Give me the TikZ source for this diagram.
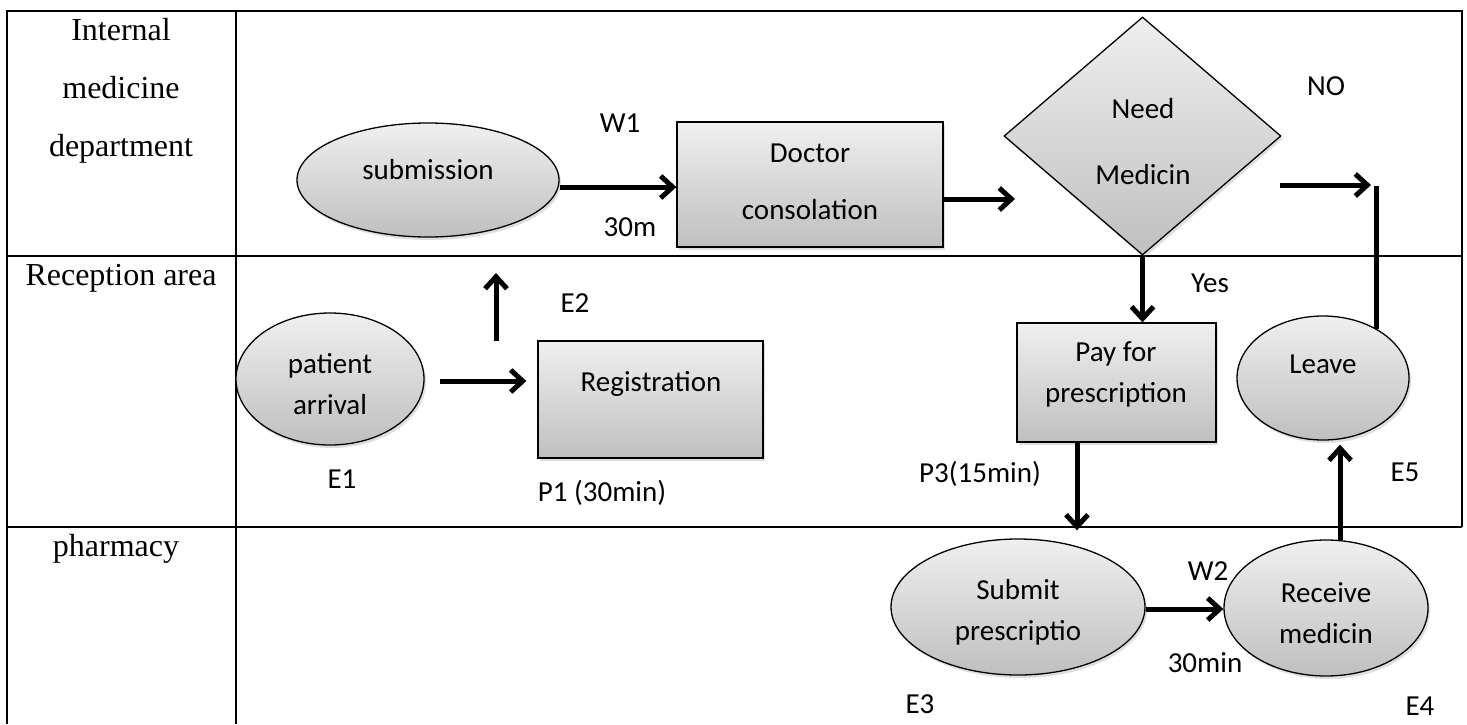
\documentclass[tikz,border=0pt]{standalone}
\usepackage{fontspec}
\setmainfont{Liberation Serif}
\newfontfamily\sansfnt{Carlito}
\usetikzlibrary{shapes.geometric,arrows.meta,shadows}
\begin{document}
\begin{tikzpicture}[x=1pt,y=-1pt,
  lanelbl/.style={font=\fontsize{32}{40}\selectfont, anchor=base, inner sep=0},
  txt/.style={font=\sansfnt\fontsize{29}{41}\selectfont, align=center, inner sep=0},
  shp/.style={draw=black, line width=1.3pt, top color=gray!12, bottom color=gray!50, inner sep=0,
    drop shadow={shadow xshift=2pt, shadow yshift=-3pt, opacity=0.25}},
  ell/.style={shp, ellipse},
  boxs/.style={shp, rectangle},
  diam/.style={shp, diamond},
  arr/.style={line width=5pt, -{Straight Barb[length=12pt,width=22pt]}},
  plain/.style={line width=5pt},
  grid/.style={line width=2pt}
]
\useasboundingbox (0,0) rectangle (1467,724);
% table
\draw[grid] (7,724) -- (7,11) -- (1462,11) -- (1462,527);
\draw[grid] (236,11) -- (236,724);
\draw[grid] (7,256) -- (1462,256);
\draw[grid] (7,527) -- (1462,527);
% lane labels
\node[lanelbl] (l1a) at (121,40) {Internal};
\node[lanelbl] (l1b) at (121,98) {medicine};
\node[lanelbl] (l1c) at (121,156) {department};
\node[lanelbl] (l2) at (121,285) {Reception area};
\node[lanelbl] (l3) at (116,556) {pharmacy};
% shapes
\node[ell, minimum width=262pt, minimum height=114pt] (sub) at (428,180) {};
\node[boxs, minimum width=266pt, minimum height=125pt] (doc) at (810,184.5) {};
\node[diam, minimum width=277pt, minimum height=238pt] (dia) at (1142.5,136) {};
\node[ell, minimum width=188pt, minimum height=132pt] (pat) at (330,379) {};
\node[boxs, minimum width=225pt, minimum height=117pt] (reg) at (650.5,399.5) {};
\node[boxs, minimum width=199pt, minimum height=119pt] (pay) at (1116.5,382.5) {};
\node[ell, minimum width=172pt, minimum height=124pt] (lev) at (1323,378) {};
\node[ell, minimum width=254pt, minimum height=136pt] (smt) at (1018,607) {};
\node[ell, minimum width=204pt, minimum height=136pt] (rcv) at (1326,608) {};
% shape texts
\node[txt] (tsub) at (428,170) {submission};
\node[txt, font=\sansfnt\fontsize{29}{57}\selectfont] (tdoc) at (810,182) {Doctor\\consolation};
\node[txt, font=\sansfnt\fontsize{29}{66}\selectfont] (tdia) at (1143,142) {Need\\Medicin};
\node[txt] (tpat) at (330,384) {patient\\arrival};
\node[txt] (treg) at (651,384) {Registration};
\node[txt] (tpay) at (1116,374) {Pay for\\prescription};
\node[txt] (tlev) at (1323,364) {Leave};
\node[txt] (tsmt) at (1018,612) {Submit\\prescriptio};
\node[txt] (trcv) at (1326,613) {Receive\\medicin};
% free labels
\node[txt] (w1) at (620,123) {W1};
\node[txt] (m30) at (630,227) {30m};
\node[txt] (no) at (1326,86) {NO};
\node[txt] (e2) at (575,303) {E2};
\node[txt] (yes) at (1210,283) {Yes};
\node[txt] (e1) at (342,479) {E1};
\node[txt] (p1) at (602,493) {P1 (30min)};
\node[txt] (p3) at (980,474) {P3(15min)};
\node[txt] (e5) at (1405,472) {E5};
\node[txt] (w2) at (1208,571) {W2};
\node[txt] (min30) at (1205,663) {30min};
\node[txt] (e3) at (920,704) {E3};
\node[txt] (e4) at (1420,706) {E4};
% coordinates for free ends
\coordinate (t1) at (1015,199);
\coordinate (n0) at (1280,185);
\coordinate (n1) at (1371,185);
\coordinate (n2) at (1376,186);
\coordinate (lv) at (1376,329);
\coordinate (pa) at (440,381);
\coordinate (u0) at (496,341);
\coordinate (u1) at (496,273);
\coordinate (p0) at (1077,443);
\coordinate (r0) at (1340,540);
% connectors
\draw[arr] ([yshift=-7pt]sub.east) -- ([yshift=-7pt]sub.east -| doc.west);
\draw[arr] (doc.east |- t1) -- (t1);
\draw[arr] (n0) -- (n1);
\draw[plain] (lv) -- (n2);
\draw[arr] (dia.south) -- (dia.south |- pay.north);
\draw[arr, shorten >=11pt] (pa) -- (pa -| reg.west);
\draw[arr] (u0) -- (u1);
\draw[arr, shorten >=8pt] (p0) -- (p0 |- smt.north);
\draw[arr, shorten >=4pt] (r0) -- (r0 |- lev.south);
\draw[arr] ([yshift=-2pt]smt.east) -- ([yshift=-2pt]smt.east -| rcv.west);
\end{tikzpicture}
\end{document}
